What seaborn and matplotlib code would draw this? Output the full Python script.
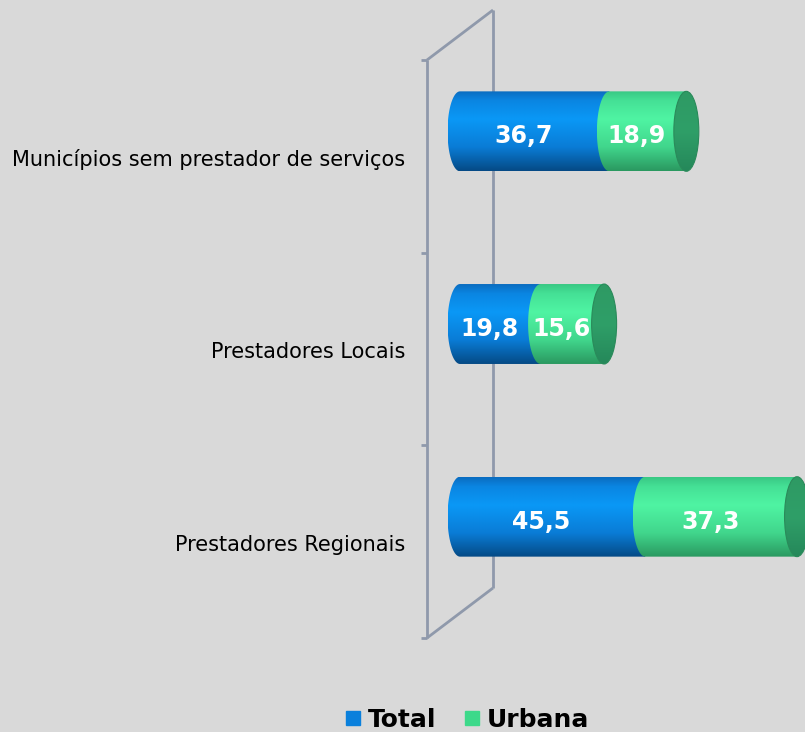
import numpy as np
import pandas as pd
import matplotlib
matplotlib.use("Agg")
import matplotlib.pyplot as plt
from matplotlib.path import Path
from matplotlib.patches import PathPatch, Ellipse
from matplotlib.colors import LinearSegmentedColormap
from matplotlib.lines import Line2D
from matplotlib import transforms
import seaborn as sns

# ---- data ----
categories = ["Municípios sem prestador de serviços", "Prestadores Locais", "Prestadores Regionais"]
total = [36.7, 19.8, 45.5]
urbana = [18.9, 15.6, 37.3]
series_names = ["Total", "Urbana"]

df = pd.DataFrame({"categoria": categories, "Total": total, "Urbana": urbana})
df["acumulado"] = df["Total"] + df["Urbana"]

BG = "#d9d9d9"
WALL = "#8f99ab"
BLUE = "#0a80dc"
GREEN = "#3dd98a"

sns.set_theme(style="white")
plt.rcParams["font.family"] = ["DejaVu Sans"]

W, H = 805, 732
fig = plt.figure(figsize=(W / 100, H / 100), dpi=100, facecolor=BG)

# plot plane (middle depth of the 3D box), in pixels; value 0 sits at zero_px
zero_px, right_px, top_px, bot_px = 460, 806, 35, 613
XMAX = 85
px_x = (right_px - zero_px) / XMAX           # pixels per x unit
px_y = (bot_px - top_px) / 3.0               # pixels per category unit
left_px = 400
XMIN = -(zero_px - left_px) / px_x

ax = fig.add_axes([left_px / W, 1 - bot_px / H, (right_px - left_px) / W, (bot_px - top_px) / H])
ax.set_facecolor("none")

bar_h = 0.415
sns.barplot(data=df, x="acumulado", y="categoria", color=GREEN, orient="h",
            width=bar_h, ax=ax, saturation=1)
sns.barplot(data=df, x="Total", y="categoria", color=BLUE, orient="h",
            width=bar_h, ax=ax, saturation=1)
ax.set_xlim(XMIN, XMAX)
ax.set_ylim(2.5, -0.5)
ax.axis("off")
for p in ax.patches:
    p.set_alpha(0)

# depth offset of the box (pixels): front plane is left/down, back plane right/up
DX, DY = 33, 25
dxu, dyu = DX / px_x, DY / px_y

# walls of the 3D frame
wall_kw = dict(color=WALL, lw=2, solid_capstyle="butt", clip_on=False, zorder=1)
ax.plot([-dxu, -dxu], [-0.5 + dyu, 2.5 + dyu], **wall_kw)       # front axis
ax.plot([dxu, dxu], [-0.5 - dyu, 2.5 - dyu], **wall_kw)         # back edge
ax.plot([-dxu, dxu], [-0.5 + dyu, -0.5 - dyu], **wall_kw)       # top diagonal
ax.plot([-dxu, dxu], [2.5 + dyu, 2.5 - dyu], **wall_kw)         # bottom diagonal
for yt in [-0.5, 0.5, 1.5, 2.5]:
    ax.plot([-dxu - 6 / px_x, -dxu], [yt + dyu, yt + dyu], **wall_kw)

# cylinder rendering
ew = 12.5 / px_x   # half-width of the end ellipses in x units


def shade(stops):
    return LinearSegmentedColormap.from_list("s", stops)


blue_cmap = shade([(0.0, "#0b6cc0"), (0.12, "#0a86e2"), (0.35, "#0a98f6"),
                   (0.7, "#0a7cd6"), (1.0, "#054a85")])
green_cmap = shade([(0.0, "#39c884"), (0.12, "#45e196"), (0.35, "#4ff4a3"),
                    (0.7, "#41d68c"), (1.0, "#2a9860")])
cap_cmap = shade([(0.0, "#2e9a64"), (0.5, "#2f9f68"), (1.0, "#25885a")])
grad = np.linspace(0, 1, 256).reshape(-1, 1)


def segment_path(x0, x1, yc, h):
    # body of a cylinder segment: elliptical left end, straight right end
    t = np.linspace(np.pi / 2, 3 * np.pi / 2, 60)
    ex = x0 + ew * np.cos(t)
    ey = yc - (h / 2) * np.sin(t)
    verts = list(zip(ex, ey)) + [(x1, yc + h / 2), (x1, yc - h / 2), (ex[0], ey[0])]
    codes = [Path.MOVETO] + [Path.LINETO] * (len(verts) - 2) + [Path.CLOSEPOLY]
    return Path(verts, codes)


def fill_gradient(clip, cmap, xl, xr, yc, h, z):
    ax.add_patch(clip)
    im = ax.imshow(grad, cmap=cmap, aspect="auto", origin="upper",
                   extent=(xl, xr, yc + h / 2, yc - h / 2), zorder=z, interpolation="bilinear")
    im.set_clip_path(clip)


lab_tr = transforms.offset_copy(ax.transData, fig=fig, x=-11, y=-5, units="dots")
for i in range(len(categories)):
    yc = i
    t_val, u_val = total[i], urbana[i]
    end = t_val + u_val
    fill_gradient(PathPatch(segment_path(0, t_val, yc, bar_h), fc="none", ec="none"),
                  blue_cmap, -ew, t_val, yc, bar_h, 3)
    fill_gradient(PathPatch(segment_path(t_val, end, yc, bar_h), fc="none", ec="none"),
                  green_cmap, t_val - ew, end, yc, bar_h, 4)
    fill_gradient(Ellipse((end, yc), 2 * ew, bar_h, fc="none", ec="none"),
                  cap_cmap, end - ew, end + ew, yc, bar_h, 5)
    ax.add_patch(Ellipse((end, yc), 2 * ew, bar_h, facecolor="none",
                         edgecolor="#2a8a5a", lw=0.8, zorder=6))

    # value labels
    for xc, val in [(t_val / 2, t_val), (t_val + u_val / 2, u_val)]:
        ax.text(xc, yc, f"{val:.1f}".replace(".", ","), transform=lab_tr,
                ha="center", va="center", color="white", fontsize=17,
                fontweight="bold", zorder=7)

    # category labels on the front plane
    ax.text(-dxu - 22 / px_x, yc + dyu + 3 / px_y, categories[i], ha="right", va="center",
            fontsize=15, color="black", clip_on=False)

ax.set_xlim(XMIN, XMAX)
ax.set_ylim(2.5, -0.5)

# legend
handles = [Line2D([], [], marker="s", ls="none", markersize=10, color=BLUE, label=series_names[0]),
           Line2D([], [], marker="s", ls="none", markersize=10, color=GREEN, label=series_names[1])]
fig.legend(handles=handles, loc="center", bbox_to_anchor=(466 / W, 1 - 720 / H), ncol=2,
           frameon=False, handlelength=0.8, handletextpad=0.2, columnspacing=1.0,
           prop={"weight": "bold", "size": 18}, labelcolor="black")

fig.savefig("out.png", dpi=100, facecolor=BG)
